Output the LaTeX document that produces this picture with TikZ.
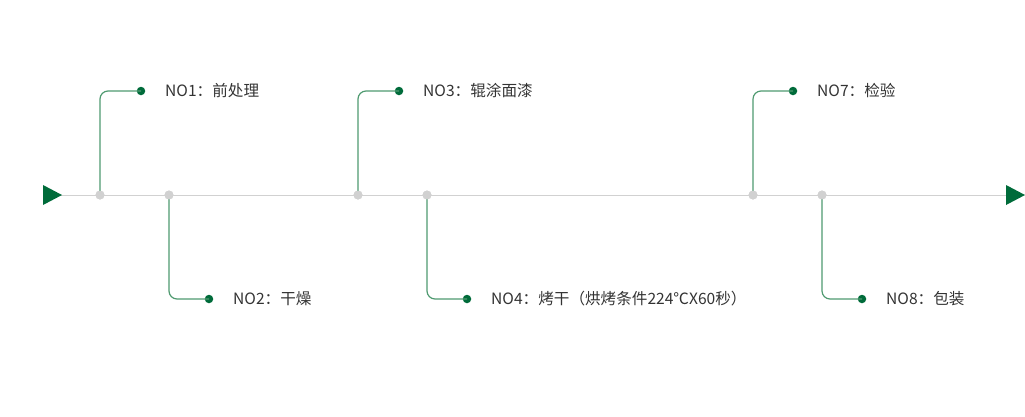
\documentclass[tikz,border=0pt]{standalone}
\usepackage{fontspec}
\setmainfont{Noto Sans CJK SC}
\begin{document}
\begin{tikzpicture}[x=1pt,y=-1pt,
  axisline/.style={draw=black!18,line width=0.9pt},
  gdot/.style={circle,fill=black!18,inner sep=0,minimum size=9pt},
  edot/.style={circle,fill=dkgreen,inner sep=0,minimum size=8.5pt},
  branch/.style={draw=ltgreen,line width=1.2pt,rounded corners=8pt},
  lbl/.style={anchor=west,inner sep=0,font=\fontsize{15.6pt}{18pt}\selectfont,text=black!80}]
\definecolor{dkgreen}{HTML}{006B3A}
\definecolor{ltgreen}{HTML}{4F9A70}
\useasboundingbox (0,0) rectangle (1025,416);
\draw[axisline] (55,195) -- (1010,195);
\fill[dkgreen] (43,185) -- (62,195) -- (43,205) -- cycle;
\fill[dkgreen] (1006,185) -- (1025,195) -- (1006,205) -- cycle;
\foreach \n/\x/\e/\y/\t in {a/100/141/91/{NO1：前处理},b/169/209/299/{NO2：干燥},c/358/399/91/{NO3：辊涂面漆},d/427/467/299/{NO4：烤干（烘烤条件224℃X60秒）},e/753/793/91/{NO7：检验},f/822/862/299/{NO8：包装}}{
  \node[gdot] (g\n) at (\x,195) {};
  \node[edot] (e\n) at (\e,\y) {};
  \draw[branch] (g\n.center) -- (\x,\y) -- (e\n.center);
  \node[gdot] at (\x,195) {};
  \node[lbl] (t\n) at (\e+24,\y) {\t};
}
\end{tikzpicture}
\end{document}
